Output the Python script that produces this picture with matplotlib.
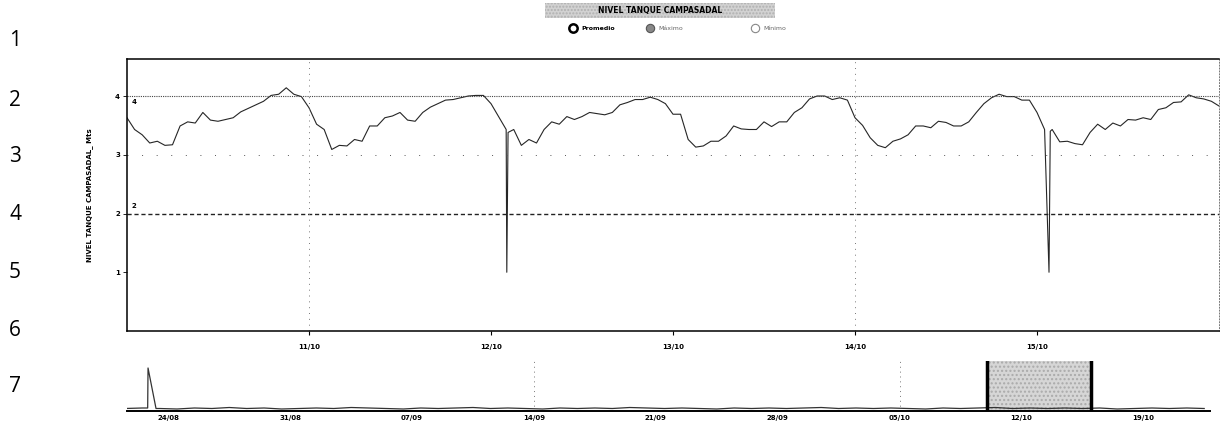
import matplotlib
matplotlib.use('Agg')
import matplotlib.pyplot as plt
import matplotlib.dates as mdates
from matplotlib.lines import Line2D
from matplotlib.patches import Rectangle
import pandas as pd

# ---------------- data ----------------
start = "2015-10-10 00:00"
level_hourly = [
    3.63, 3.43, 3.34, 3.20, 3.23, 3.16, 3.17, 3.49, 3.56, 3.54, 3.72, 3.59,
    3.57, 3.60, 3.63, 3.73, 3.79, 3.85, 3.91, 4.01, 4.03, 4.14, 4.03, 3.99,
    3.80, 3.52, 3.43, 3.09, 3.16, 3.15, 3.26, 3.23, 3.49, 3.49, 3.63, 3.66,
    3.72, 3.59, 3.57, 3.72, 3.81, 3.87, 3.93, 3.94, 3.97, 4.00, 4.01, 4.01,
    3.87, 3.65, 3.43, 3.43, 3.16, 3.26, 3.20, 3.43, 3.56, 3.52, 3.65, 3.60,
    3.65, 3.72, 3.70, 3.68, 3.72, 3.85, 3.89, 3.94, 3.94, 3.98, 3.94, 3.87,
    3.69, 3.69, 3.26, 3.13, 3.15, 3.23, 3.23, 3.32, 3.49, 3.44, 3.43, 3.43,
    3.56, 3.48, 3.56, 3.56, 3.72, 3.80, 3.95, 4.00, 4.00, 3.94, 3.97, 3.93,
    3.63, 3.50, 3.29, 3.16, 3.12, 3.23, 3.27, 3.34, 3.49, 3.49, 3.46, 3.57,
    3.55, 3.49, 3.49, 3.56, 3.72, 3.87, 3.97, 4.03, 3.99, 3.99, 3.93, 3.93,
    3.72, 3.43, 3.43, 3.22, 3.23, 3.19, 3.17, 3.38, 3.52, 3.43, 3.54, 3.49,
    3.60, 3.59, 3.63, 3.60, 3.77, 3.80, 3.89, 3.90, 4.02, 3.97, 3.95, 3.91,
    3.83,
]
drop_times = ["2015-10-12 02:05", "2015-10-12 02:15",
              "2015-10-15 01:35", "2015-10-15 01:45"]
drop_vals = [1.00, 3.38, 1.00, 3.40]

limit_high = 4
limit_low = 2
y_ticks = [1, 2, 3, 4]
main_ticks = ["2015-10-11", "2015-10-12", "2015-10-13", "2015-10-14", "2015-10-15"]

nav_start = "2015-08-21 12:00"
nav_daily = [
    0.05, 0.06, 0.05, 0.04, 0.06, 0.05, 0.07, 0.05, 0.06, 0.04, 0.05,
    0.06, 0.05, 0.07, 0.06, 0.05, 0.04, 0.06, 0.05, 0.06, 0.07, 0.05,
    0.06, 0.05, 0.04, 0.06, 0.05, 0.06, 0.05, 0.07, 0.06, 0.05, 0.06,
    0.05, 0.04, 0.06, 0.05, 0.06, 0.05, 0.06, 0.07, 0.05, 0.06, 0.05,
    0.06, 0.05, 0.04, 0.06, 0.05, 0.06, 0.07, 0.05, 0.06, 0.05, 0.06,
    0.05, 0.06, 0.04, 0.05, 0.06, 0.05, 0.06, 0.05,
]
nav_spike_times = ["2015-08-22 19:30", "2015-08-22 20:00", "2015-08-23 07:00"]
nav_spike_vals = [0.06, 0.86, 0.05]
nav_ticks = ["2015-08-24", "2015-08-31", "2015-09-07", "2015-09-14",
             "2015-09-21", "2015-09-28", "2015-10-05", "2015-10-12", "2015-10-19"]
nav_range = ("2015-08-21 15:00", "2015-10-22 20:00")
sel_range = ("2015-10-10 00:00", "2015-10-16 00:00")

legend_title = "NIVEL TANQUE CAMPASADAL"
legend_items = ["Promedio", "Máximo", "Mínimo"]
ylabel = "NIVEL TANQUE CAMPASADAL_ Mts"
row_numbers = ["1", "2", "3", "4", "5", "6", "7"]

# ---------------- build series ----------------
s = pd.Series(level_hourly, index=pd.date_range(start, periods=len(level_hourly), freq="h"))
s = pd.concat([s, pd.Series(drop_vals, index=pd.to_datetime(drop_times))]).sort_index()

n = pd.Series(nav_daily, index=pd.date_range(nav_start, periods=len(nav_daily), freq="D"))
n = pd.concat([n, pd.Series(nav_spike_vals, index=pd.to_datetime(nav_spike_times))]).sort_index()

W, H = 1220, 426
fig = plt.figure(figsize=(W / 100, H / 100), dpi=100)
fig.patch.set_facecolor("white")

def fx(px):
    return px / W

def fy(py):
    return 1 - py / H

ax = fig.add_axes([fx(127), fy(331), fx(1219 - 127), (331 - 59) / H])
nav = fig.add_axes([fx(127), fy(411), fx(1210 - 127), 50 / H])

# ---------------- main chart ----------------
ax.plot(s.index, s.values, color="#262626", lw=0.8)
ax.axhline(limit_high, color="#444444", lw=0.8, ls=(0, (1, 1)))
ax.axhline(limit_low, color="#222222", lw=1.0, ls=(0, (3, 2)))
ax.axhline(3, color="#555555", lw=0.7, ls=(0, (1, 14)))
for d in ["2015-10-11", "2015-10-14"]:
    ax.axvline(pd.Timestamp(d), color="#777777", lw=0.7, ls=(0, (1, 5)))
ax.text(0.004, limit_high - 0.1, "4", transform=ax.get_yaxis_transform(),
        fontsize=5, fontweight="bold", va="center")
ax.text(0.004, limit_low + 0.12, "2", transform=ax.get_yaxis_transform(),
        fontsize=5, fontweight="bold", va="center")

ax.set_xlim(pd.Timestamp(sel_range[0]), pd.Timestamp(sel_range[1]))
ax.set_ylim(0, 4.63)
ax.set_yticks(y_ticks)
ax.set_yticklabels([str(v) for v in y_ticks], fontsize=5, fontweight="bold")
ax.set_xticks(pd.to_datetime(main_ticks))
ax.xaxis.set_major_formatter(mdates.DateFormatter("%d/%m"))
ax.tick_params(axis="x", labelsize=5, length=3, width=0.8, pad=6)
ax.tick_params(axis="y", length=3, width=0.6, pad=2)
for lab in ax.get_xticklabels():
    lab.set_fontweight("bold")
for sp in ["left", "top", "bottom"]:
    ax.spines[sp].set_linewidth(1.1)
    ax.spines[sp].set_color("black")
ax.spines["right"].set_linestyle((0, (1, 2)))
ax.spines["right"].set_color("#777777")
ax.spines["right"].set_linewidth(0.7)
ax.set_ylabel(ylabel, fontsize=5, fontweight="bold", labelpad=16)

# ---------------- navigator ----------------
nav.plot(n.index, n.values, color="#333333", lw=0.9)
nav.set_xlim(pd.Timestamp(nav_range[0]), pd.Timestamp(nav_range[1]))
nav.set_ylim(0, 1)
for d in ["2015-09-14", "2015-10-05"]:
    nav.axvline(pd.Timestamp(d), color="#777777", lw=0.7, ls=(0, (1, 4)))
x0 = mdates.date2num(pd.Timestamp(sel_range[0]))
x1 = mdates.date2num(pd.Timestamp(sel_range[1]))
nav.add_patch(Rectangle((x0, 0), x1 - x0, 1, facecolor="#d6d6d6", edgecolor="#aaaaaa",
                        lw=0, hatch="....", zorder=1))
nav.plot([x0, x0], [0, 1], color="black", lw=2.5, zorder=3)
nav.plot([x1, x1], [0, 1], color="black", lw=2.5, zorder=3)
nav.set_xticks(pd.to_datetime(nav_ticks))
nav.xaxis.set_major_formatter(mdates.DateFormatter("%d/%m"))
nav.tick_params(axis="x", labelsize=5, length=0, pad=3)
for lab in nav.get_xticklabels():
    lab.set_fontweight("bold")
nav.set_yticks([])
for sp in ["left", "top", "right"]:
    nav.spines[sp].set_visible(False)
nav.spines["bottom"].set_linewidth(1.4)

# ---------------- legend ----------------
fig.add_artist(Rectangle((fx(545), fy(18)), fx(230), 15 / H, transform=fig.transFigure,
                         facecolor="#d2d2d2", edgecolor="#b0b0b0", lw=0, hatch="....."))
fig.text(fx(660), fy(10), legend_title, fontsize=5.5, fontweight="bold",
         ha="center", va="center")
leg_x = [573, 650, 755]
styles = [dict(mfc="white", mec="black", mew=1.8),
          dict(mfc="#888888", mec="#555555", mew=0.8),
          dict(mfc="white", mec="#888888", mew=0.8)]
for xp, lab, st in zip(leg_x, legend_items, styles):
    fig.add_artist(Line2D([fx(xp)], [fy(28)], marker="o", ms=6, ls="none",
                          transform=fig.transFigure, **st))
    fig.text(fx(xp + 8), fy(28), lab, fontsize=4.5, va="center",
             color="black" if lab == legend_items[0] else "#666666",
             fontweight="bold" if lab == legend_items[0] else "normal")

# ---------------- row numbers ----------------
for txt, yp in zip(row_numbers, [40, 100, 157, 214, 272, 330, 386]):
    fig.text(fx(15), fy(yp), txt, fontsize=15, ha="center", va="center",
             family="Open Sans")

fig.savefig("out.png", dpi=100, facecolor="white")
